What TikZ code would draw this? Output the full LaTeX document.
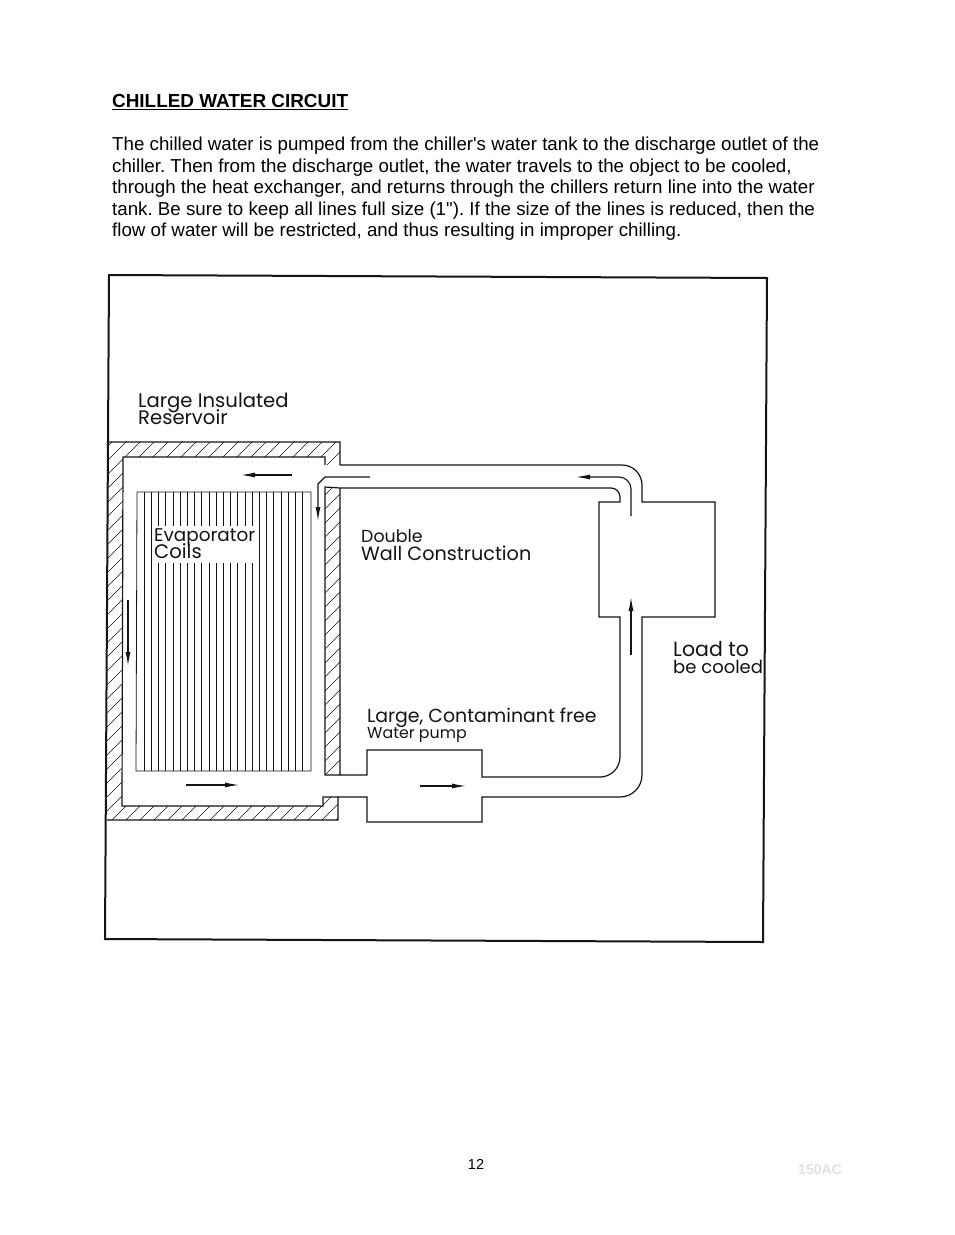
\documentclass[tikz,border=0pt]{standalone}
\usepackage{fontspec}
\setmainfont{Liberation Sans}
\newfontfamily\bodyfont{Liberation Sans}
\newfontfamily\labelfont{Poppins}
\usetikzlibrary{arrows.meta, positioning}
\definecolor{myink}{RGB}{20,20,20}
\definecolor{myfaint}{RGB}{225,225,225}
\newcommand{\lblsize}[1]{\fontsize{#1}{17}\selectfont}
\tikzset{
  body/.style={anchor=north west, inner sep=0pt, align=left, text=black},
  lbl/.style={anchor=north west, inner sep=0pt, align=left, text=myink,
    font=\labelfont\fontsize{18}{17}\selectfont},
  pipe/.style={line width=1.2pt, color=myink},
  flow/.style={-{Latex[length=14pt,width=5pt]}, line width=1.1pt, color=myink},
  coil/.style={line width=0.8pt, color=myink},
  hatch/.style={line width=0.55pt, color=myink}
}
\begin{document}
\frenchspacing
\begin{tikzpicture}[x=1pt,y=-1pt]
\useasboundingbox (0,0) rectangle (954,1235);
\fill[white] (0,0) rectangle (954,1235);

% page text
\node[body, font=\bfseries\fontsize{18.9}{21}\selectfont] (title) at (112,94) {\underline{CHILLED WATER CIRCUIT}};
\node[body, font=\bodyfont\fontsize{18.72}{21.55}\selectfont] (para) at (112,137) {The chilled water is pumped from the chiller's water tank to the discharge outlet of the\\
chiller. Then from the discharge outlet, the water travels to the object to be cooled,\\
through the heat exchanger, and returns through the chillers return line into the water\\
tank. Be sure to keep all lines full size (1"). If the size of the lines is reduced, then the\\
flow of water will be restricted, and thus resulting in improper chilling.};
\node[inner sep=0pt, font=\fontsize{14.5}{16}\selectfont] (pageno) at (476,1164) {12};
\node[inner sep=0pt, text=myfaint, font=\bfseries\fontsize{14}{16}\selectfont] (model) at (820,1170) {150AC};

% frame
\draw[line width=2pt, color=myink] (109,275) -- (767,278) -- (763,942) -- (105,939) -- cycle;

% reservoir walls
\begin{scope}
\clip (108,442) -- (340,442) -- (340,465) -- (325,465) -- (325,457) -- (123,457) -- (122,806) -- (323,806) -- (323,797) -- (338,797) -- (338,820) -- (107,820) -- cycle
      (325,487) rectangle (340,775);
\foreach \k in {-290,-276,...,340}
  \draw[hatch] (\k,830) -- ++(400,-400);
\end{scope}
\draw[pipe] (108,442) -- (340,442) -- (340,465) (325,465) -- (325,457) -- (123,457) -- (122,806) -- (323,806) -- (323,797) -- (338,797) -- (338,820) -- (107,820);
\draw[pipe] (340,488) -- (325,487) -- (325,775) -- (338,775) (340,488) -- (340,775);

% coils
\draw[coil] (137,492) -- (311,492) -- (311,771) -- (136,771) -- (137,492);
\foreach \k in {1,...,23}
  \draw[coil] (137+7.2*\k,492) -- (137+7.2*\k,771);
\fill[white] (152.5,526) rectangle (258.5,563);

% pipes, pump and load
\draw[pipe] (340,465) [rounded corners=20pt] -- (642,465) [sharp corners] -- (642,502) -- (715,502) -- (715,617) -- (642,617) [rounded corners=22pt] -- (642,797) [sharp corners] -- (482,797) -- (482,822) -- (367,822) -- (367,797) -- (338,797);
\draw[pipe] (340,488) [rounded corners=9pt] -- (620,488) [sharp corners] -- (620,502) -- (599,502) -- (599,617) -- (620,617) [rounded corners=20pt] -- (620,777) [sharp corners] -- (482,777) -- (482,750) -- (367,750) -- (367,775) -- (338,775);

% flow arrows
\draw[flow] (631,516) [rounded corners=12pt] -- (631,477) [sharp corners] -- (576,477);
\draw[flow] (370,477) -- (325,477) -- (318,484) -- (318,521);
\draw[flow] (292,475) -- (241,475);
\draw[flow] (128,600) -- (128,666);
\draw[flow] (186,785) -- (239,785);
\draw[flow] (420,786) -- (466,786);
\draw[flow] (631,655) -- (631,597);

% labels
\node[lbl] (reservoir) at (138,393) {\lblsize{19.6}Large Insulated\\[-4pt]\lblsize{19.6}Reservoir};
\node[lbl] (coils) at (154,528) {\lblsize{18.4}Evaporator\\[-3pt]\lblsize{19.6}Coils};
\node[lbl] (wall) at (361,529) {\lblsize{17.4}Double\\[1pt]\lblsize{19.2}Wall Construction};
\node[lbl] (pumplbl) at (367,708) {\lblsize{18.9}Large, Contaminant free\\[-1pt]\lblsize{15.8}Water pump};
\node[lbl] (load) at (673,641) {\lblsize{20.5}Load to\\\lblsize{18}be cooled};
\end{tikzpicture}
\end{document}
